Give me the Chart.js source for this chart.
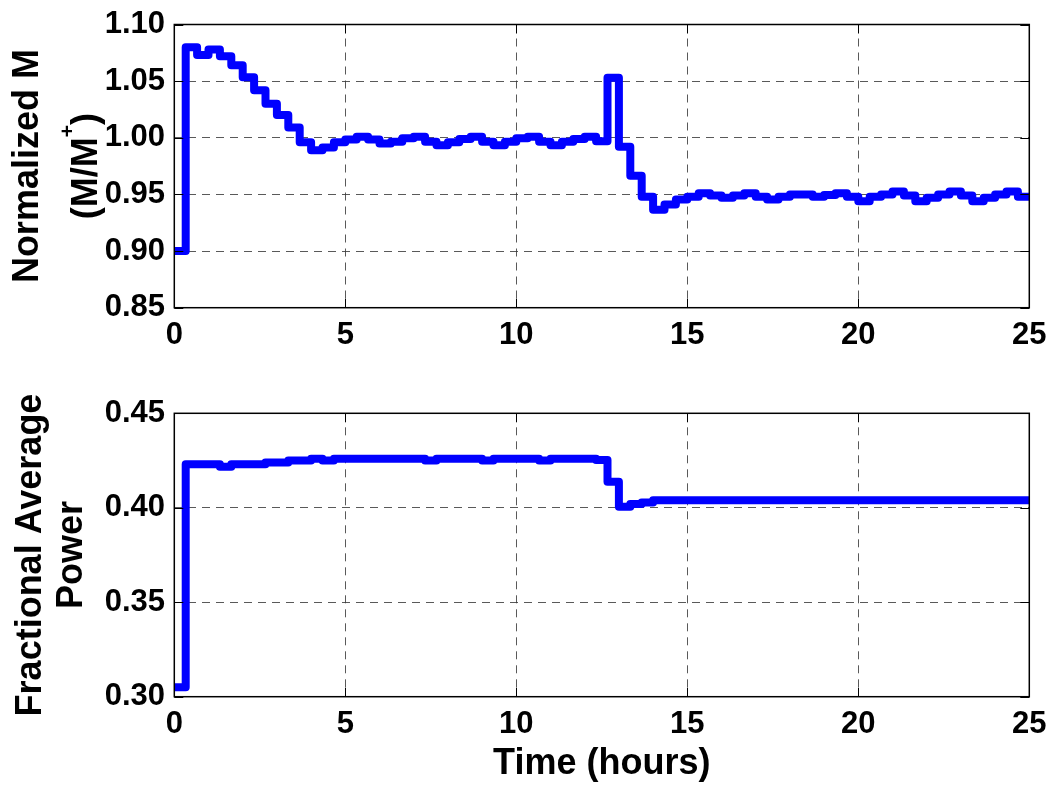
<!DOCTYPE html>
<html>
<head>
<meta charset="utf-8">
<script src="https://cdn.jsdelivr.net/npm/chart.js@4.4.1/dist/chart.umd.min.js"></script>
<style>
  html,body{margin:0;padding:0;background:#fff;}
  #wrap{position:relative;width:1052px;height:787px;}
  canvas{position:absolute;left:0;}
</style>
</head>
<body>
<div id="wrap">
  <canvas id="chart-m" width="1052" height="370" style="top:0"></canvas>
  <canvas id="chart-power" width="1052" height="417" style="top:370px"></canvas>
</div>
<script>
// one value per 20 min step (stairs), 0..25 h
const stepHours = 1/3;
const timeTicks = [0,5,10,15,20,25];
const mTicks = [0.85,0.90,0.95,1.00,1.05,1.10];
const powerTicks = [0.30,0.35,0.40,0.45];
const mVals = [
  0.900,1.080,1.073,1.078,1.072,1.064,1.0535,1.042,1.030,1.020,
  1.009,0.996,0.989,0.9915,0.996,0.9985,1.001,0.9985,0.995,0.9965,
  0.9995,1.001,0.9965,0.9935,0.996,0.999,1.001,0.9965,0.9935,0.9965,
  0.9995,1.001,0.9965,0.9935,0.9965,0.999,1.001,0.997,1.053,0.992,
  0.9665,0.948,0.9365,0.941,0.9455,0.948,0.951,0.949,0.947,0.949,
  0.951,0.948,0.9455,0.948,0.950,0.950,0.948,0.9495,0.951,0.948,
  0.944,0.948,0.950,0.9525,0.949,0.944,0.947,0.950,0.9525,0.949,
  0.944,0.947,0.950,0.9525,0.948
];
const powerVals = [
  0.305,0.423,0.423,0.423,0.4217,0.423,0.423,0.423,0.424,0.424,
  0.425,0.425,0.426,0.425,0.426,0.426,0.426,0.426,0.426,0.426,
  0.426,0.426,0.425,0.426,0.426,0.426,0.426,0.425,0.426,0.426,
  0.426,0.426,0.425,0.426,0.426,0.426,0.426,0.4253,0.4138,0.4005,
  0.402,0.4028,0.404,0.404,0.404,0.404,0.404,0.404,0.404,0.404,
  0.404,0.404,0.404,0.404,0.404,0.404,0.404,0.404,0.404,0.404,
  0.404,0.404,0.404,0.404,0.404,0.404,0.404,0.404,0.404,0.404,
  0.404,0.404,0.404,0.404,0.404
];

const FONT='"Liberation Sans", Arial, Helvetica, sans-serif';

function stairPoints(vals){
  // hold the last value to the end of its step
  const pts=vals.map((v,i)=>({x:i*stepHours,y:v}));
  pts.push({x:vals.length*stepHours,y:vals[vals.length-1]});
  return pts;
}

// box, inward tick marks and the axis titles (MATLAB look)
const matlabAxes={
  id:'matlabAxes',
  afterDraw(chart,args,opts){
    const {ctx,chartArea:a,scales}=chart;
    ctx.save();
    ctx.strokeStyle='#000';ctx.lineWidth=1;
    const tl=9;
    ctx.beginPath();
    for(const t of scales.x.ticks){
      const px=Math.round(scales.x.getPixelForValue(t.value))+0.5;
      ctx.moveTo(px,a.bottom);ctx.lineTo(px,a.bottom-tl);
      ctx.moveTo(px,a.top);ctx.lineTo(px,a.top+tl);
    }
    for(const t of scales.y.ticks){
      const py=Math.round(scales.y.getPixelForValue(t.value))+0.5;
      ctx.moveTo(a.left,py);ctx.lineTo(a.left+tl,py);
      ctx.moveTo(a.right,py);ctx.lineTo(a.right-tl,py);
    }
    ctx.stroke();
    ctx.lineWidth=1.5;
    ctx.strokeRect(a.left,a.top,a.right-a.left,a.bottom-a.top);

    ctx.fillStyle='#000';
    const cy=(a.top+a.bottom)/2;
    for(const ln of opts.yTitle||[]){
      ctx.save();
      ctx.translate(ln.x,cy);
      ctx.rotate(-Math.PI/2);
      ctx.textBaseline='alphabetic';ctx.textAlign='left';
      const parts=ln.parts;
      let w=0;
      for(const p of parts){ctx.font=`bold ${p.sup?21:36}px ${FONT}`;p.w=ctx.measureText(p.text).width;w+=p.w;}
      let x=-w/2;
      for(const p of parts){
        ctx.font=`bold ${p.sup?21:36}px ${FONT}`;
        ctx.fillText(p.text,x,p.sup?-23:0);
        x+=p.w;
      }
      ctx.restore();
    }
    if(opts.xTitle){
      ctx.font=`bold 36px ${FONT}`;ctx.textAlign='center';ctx.textBaseline='alphabetic';
      ctx.fillText(opts.xTitle,(a.left+a.right)/2,opts.xTitleY);
    }
    ctx.restore();
  }
};

function noOverhang(s){s.paddingLeft=0;s.paddingRight=0;s.paddingTop=0;s.paddingBottom=0;}

function makeChart(id,vals,yTicks,cfg){
  const el=document.getElementById(id);
  return new Chart(el.getContext('2d'),{
    type:'line',
    data:{datasets:[{data:stairPoints(vals),stepped:'before',borderColor:'#0000ff',borderWidth:8,
      borderJoinStyle:'round',borderCapStyle:'butt',pointRadius:0,fill:false}]},
    options:{
      responsive:false,animation:false,devicePixelRatio:1,
      layout:{padding:{left:0,right:22.7,top:cfg.top,bottom:0}},
      plugins:{legend:{display:false},tooltip:{enabled:false},matlabAxes:cfg.titles},
      scales:{
        x:{type:'linear',min:0,max:25,
          afterBuildTicks:s=>{s.ticks=timeTicks.map(v=>({value:v}));},
          afterFit:s=>{s.height=cfg.xHeight;noOverhang(s);},
          ticks:{color:'#000',padding:9,font:{family:FONT,size:31,weight:'bold'},callback:v=>String(v)},
          grid:{color:'rgba(60,60,60,0.85)',lineWidth:1,drawTicks:false},
          border:{display:false,dash:[8,6]}},
        y:{type:'linear',min:yTicks[0],max:yTicks[yTicks.length-1],
          afterBuildTicks:s=>{s.ticks=yTicks.map(v=>({value:v}));},
          afterFit:s=>{s.width=174.3;noOverhang(s);},
          ticks:{color:'#000',padding:9.3,font:{family:FONT,size:31,weight:'bold'},callback:v=>Number(v).toFixed(2)},
          grid:{color:'rgba(60,60,60,0.85)',lineWidth:1,drawTicks:false},
          border:{display:false,dash:[8,6]}}
      }
    },
    plugins:[matlabAxes]
  });
}

makeChart('chart-m',mVals,mTicks,{top:24.5,xHeight:62.3,titles:{
  yTitle:[
    {x:37.5,parts:[{text:'Normalized M'}]},
    {x:97,parts:[{text:'(M/M'},{text:'+',sup:true},{text:')'}]}
  ]}});
makeChart('chart-power',powerVals,powerTicks,{top:43.3,xHeight:90.3,titles:{
  yTitle:[
    {x:40.5,parts:[{text:'Fractional Average'}]},
    {x:81.7,parts:[{text:'Power'}]}
  ],
  xTitle:'Time (hours)',xTitleY:404}});
</script>
</body>
</html>
